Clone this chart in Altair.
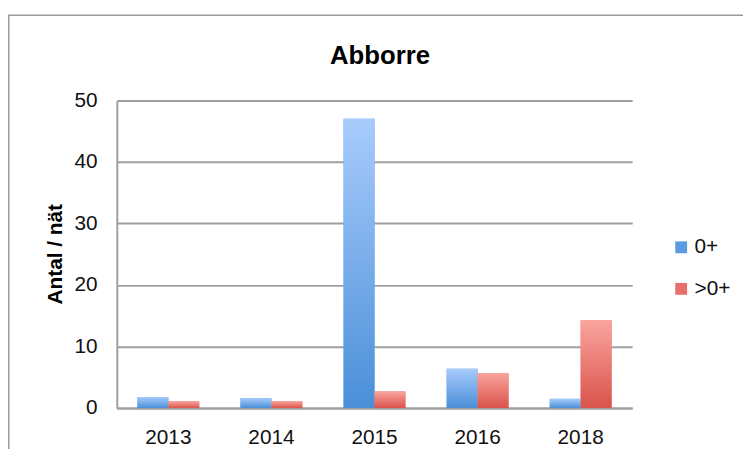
import altair as alt
import pandas as pd

years = ["2013", "2014", "2015", "2016", "2018"]
series = ["0+", ">0+"]
juvenile = [1.8, 1.6, 47.0, 6.4, 1.5]
older = [1.1, 1.1, 2.7, 5.7, 14.3]
chart_title = "Abborre"

rows = []
for i, y in enumerate(years):
    rows.append({"year": y, "group": series[0], "value": juvenile[i]})
    rows.append({"year": y, "group": series[1], "value": older[i]})
df = pd.DataFrame(rows)

FONT = "Liberation Sans"
GRAY = "#a0a0a0"

x_enc = alt.X("year:N", sort=years, title=None,
              scale=alt.Scale(paddingInner=0.4, paddingOuter=0.2),
              axis=alt.Axis(labelAngle=0, labelFontSize=21, labelFont=FONT,
                            labelColor="#111", ticks=False, tickSize=0,
                            labelPadding=19, domainColor=GRAY, domainWidth=2,
                            grid=False))
y_enc = alt.Y("value:Q", title="Antal / nät",
              scale=alt.Scale(domain=[0, 50], nice=False),
              axis=alt.Axis(values=[0, 10, 20, 30, 40, 50], labelFontSize=21,
                            labelFont=FONT, labelColor="#111", ticks=False,
                            tickSize=0, labelPadding=20, domainColor=GRAY,
                            domainWidth=2, gridColor=GRAY, gridWidth=2,
                            titleFont=FONT, titleFontSize=21, titleFontWeight="bold",
                            titleColor="#000", titleAngle=270,
                            titleBaseline="alphabetic", titleAlign="center",
                            titleX=-56, titleY=155))
xoff = alt.XOffset("group:N", scale=alt.Scale(domain=series))

base = alt.Chart(df).encode(x=x_enc, y=y_enc, xOffset=xoff)

legend_layer = base.mark_bar().encode(
    color=alt.Color("group:N",
                    scale=alt.Scale(domain=series, range=["#5b9be0", "#e8706a"]),
                    legend=alt.Legend(title=None, orient="none", legendX=560,
                                      legendY=138, symbolType="square",
                                      symbolSize=144, symbolStrokeWidth=0,
                                      labelFont=FONT, labelFontSize=21,
                                      labelColor="#111", labelOffset=3,
                                      rowPadding=20, padding=0))
)

blue_grad = alt.Gradient(gradient="linear", x1=0, x2=0, y1=0, y2=1,
                         stops=[alt.GradientStop(offset=0, color="#a8cbfc"),
                                alt.GradientStop(offset=1, color="#4a8fd8")])
red_grad = alt.Gradient(gradient="linear", x1=0, x2=0, y1=0, y2=1,
                        stops=[alt.GradientStop(offset=0, color="#faa49e"),
                               alt.GradientStop(offset=1, color="#d9534b")])

blue_layer = base.mark_bar(fill=blue_grad).transform_filter(
    alt.datum.group == series[0])
red_layer = base.mark_bar(fill=red_grad).transform_filter(
    alt.datum.group == series[1])

one = pd.DataFrame({"t": [chart_title]})
frame = alt.Chart(one).mark_rect(
    fillOpacity=0, stroke="#9a9a9a", strokeWidth=1.5
).encode(x=alt.value(-109.2), x2=alt.value(640), y=alt.value(-86), y2=alt.value(360))

title = alt.Chart(one).mark_text(
    font=FONT, fontSize=26, fontWeight="bold", color="#000",
    align="center", baseline="alphabetic"
).encode(text="t:N", x=alt.value(266), y=alt.value(-37))

chart = alt.layer(frame, legend_layer, blue_layer, red_layer, title).properties(
    width=521, height=311,
    autosize=alt.AutoSizeParams(type="none"),
    padding={"left": 110, "top": 91, "right": 112, "bottom": 39},
).configure_view(stroke=None)

chart.save("out.html", embed_options={"renderer": "svg", "actions": False})
